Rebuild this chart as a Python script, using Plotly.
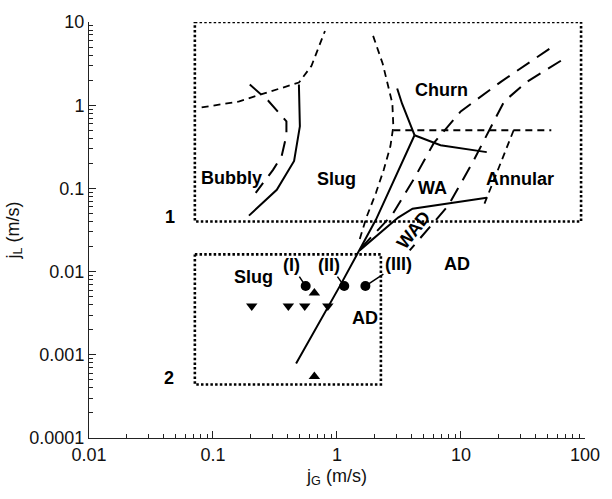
import numpy as np
import plotly.graph_objects as go

# ---------------- data ----------------
box1_x = [0.0714, 93, 93, 0.0714, 0.0714]
box1_y = [10, 10, 0.04, 0.04, 10]
box2_x = [0.0714, 2.26, 2.26, 0.0714, 0.0714]
box2_y = [0.0161, 0.0161, 0.00044, 0.00044, 0.0161]

bs_dash_x = [0.081, 0.163, 0.255, 0.493, 0.623, 0.80]
bs_dash_y = [0.94, 1.11, 1.38, 1.87, 2.98, 7.8]

bs_long_x = [0.198, 0.278, 0.391, 0.391, 0.358, 0.305, 0.221]
bs_long_y = [1.77, 1.14, 0.641, 0.436, 0.245, 0.167, 0.0886]

bs_solid_x = [0.493, 0.502, 0.451, 0.327, 0.195]
bs_solid_y = [1.77, 0.558, 0.214, 0.0962, 0.0471]

sc_dash_x = [1.956, 2.338, 2.797, 2.847, 2.698, 2.380, 2.063, 1.725, 1.496]
sc_dash_y = [6.81, 3.15, 1.05, 0.558, 0.3225, 0.1667, 0.0886, 0.0446, 0.0224]

main_solid_x = [0.468, 1.065, 2.063, 4.22]
main_solid_y = [0.000785, 0.00688, 0.0422, 0.436]
churn_arm_x = [4.22, 3.344, 3.058]
churn_arm_y = [0.436, 1.05, 1.586]
annular_arm_x = [4.22, 6.84, 16.14]
annular_arm_y = [0.436, 0.331, 0.273]
wad_solid_x = [1.522, 3.113, 4.07, 16.14]
wad_solid_y = [0.018, 0.0446, 0.0571, 0.0772]

long1_x = [51.6, 21.1, 9.95, 6.03, 4.22, 2.797, 1.578]
long1_y = [4.76, 1.923, 0.843, 0.35, 0.1338, 0.0484, 0.01955]
long2_x = [63.9, 34.2, 22.3, 17.02, 12.34, 7.89, 3.858]
long2_y = [3.424, 1.923, 1.11, 0.50, 0.202, 0.062, 0.018]

horiz_x = [2.847, 53.5]
horiz_y = [0.5, 0.5]
s2_x = [26.6, 15.02]
s2_y = [0.5, 0.0587]

circle_x = [0.559, 1.144, 1.695]
circle_y = [0.0067, 0.0067, 0.0067]
circle_labels = ["(I)", "(II)", "(III)"]
tri_up_x = [0.657, 0.657]
tri_up_y = [0.00553, 0.00055]
tri_down_x = [0.2054, 0.4053, 0.5494, 0.8436]
tri_down_y = [0.00387, 0.00387, 0.00387, 0.00387]

region_labels = ["Bubbly", "Slug", "Churn", "WA", "Annular", "AD", "Slug", "AD", "1", "2"]
region_x = [0.142, 0.987, 7.0, 5.85, 30.0, 9.34, 0.214, 1.69, 0.0452, 0.0441]
region_y = [0.134, 0.130, 1.54, 0.1017, 0.130, 0.01226, 0.00857, 0.00278, 0.0458, 0.00052]
wad_label = "WAD"
wad_x, wad_y = 4.16, 0.0312

x_tickvals = [0.01, 0.1, 1, 10, 100]
x_ticktext = ["0.01", "0.1", "1", "10", "100"]
y_tickvals = [0.0001, 0.001, 0.01, 0.1, 1, 10]
y_ticktext = ["0.0001", "0.001", "0.01", "0.1", "1", "10"]
minor_digits = [2, 3, 4, 5, 6, 7, 8, 9]
x_minor = [d * m for d in x_tickvals[:-1] for m in minor_digits]
y_minor = [d * m for d in y_tickvals[:-1] for m in minor_digits]

FONT = "Arial, Liberation Sans, sans-serif"
fig = go.Figure()

def line(x, y, dash, width):
    fig.add_trace(go.Scatter(x=x, y=y, mode="lines", showlegend=False,
                             hoverinfo="skip",
                             line=dict(color="black", width=width, dash=dash)))

DOT = "2.5px,2.2px"
SHORT = "7px,5px"
LONG = "15px,9px"

line(box1_x, box1_y, DOT, 2.6)
line(box2_x, box2_y, DOT, 2.6)
line(bs_dash_x, bs_dash_y, SHORT, 1.8)
line(bs_long_x, bs_long_y, LONG, 2)
line(bs_solid_x, bs_solid_y, "solid", 2)
line(sc_dash_x, sc_dash_y, SHORT, 1.8)
line(main_solid_x, main_solid_y, "solid", 2)
line(churn_arm_x, churn_arm_y, "solid", 2)
line(annular_arm_x, annular_arm_y, "solid", 2)
line(wad_solid_x, wad_solid_y, "solid", 2)
line(long1_x, long1_y, LONG, 2)
line(long2_x, long2_y, LONG, 2)
line(horiz_x, horiz_y, SHORT, 1.8)
line(s2_x, s2_y, SHORT, 1.8)

fig.add_trace(go.Scatter(x=circle_x, y=circle_y, mode="markers", showlegend=False,
                         marker=dict(symbol="circle", size=10, color="black")))
fig.add_trace(go.Scatter(x=tri_up_x, y=tri_up_y, mode="markers", showlegend=False,
                         marker=dict(symbol="triangle-up", size=10, color="black")))
fig.add_trace(go.Scatter(x=tri_down_x, y=tri_down_y, mode="markers", showlegend=False,
                         marker=dict(symbol="triangle-down", size=10, color="black")))

annotations = []
for t, x, y in zip(region_labels, region_x, region_y):
    annotations.append(dict(x=np.log10(x), y=np.log10(y), text="<b>%s</b>" % t,
                            showarrow=False, font=dict(family=FONT, size=18, color="black")))
annotations.append(dict(x=np.log10(wad_x), y=np.log10(wad_y), text="<b>%s</b>" % wad_label,
                        textangle=-52, showarrow=False,
                        font=dict(family=FONT, size=18, color="black")))
offsets = [(-14, -21), (-15, -21), (33, -22)]
for t, x, y, (ax, ay) in zip(circle_labels, circle_x, circle_y, offsets):
    annotations.append(dict(x=np.log10(x), y=np.log10(y), text="<b>%s</b>" % t,
                            showarrow=True, arrowhead=0, arrowwidth=1.5, arrowcolor="black",
                            ax=ax, ay=ay, standoff=3,
                            font=dict(family=FONT, size=18, color="black")))

def axis(tv, tt, minor_vals, rng, title):
    return dict(type="log", range=rng, tickmode="array", tickvals=tv, ticktext=tt,
                showline=True, linecolor="#222", linewidth=1,
                ticks="inside", ticklen=7, tickcolor="#222", showgrid=False,
                zeroline=False, mirror=False,
                tickfont=dict(family=FONT, size=18, color="#111"),
                minor=dict(tickmode="array", tickvals=minor_vals, ticks="inside",
                           ticklen=4, tickcolor="#222", showgrid=False),
                title=dict(text=title, font=dict(family=FONT, size=18, color="#111"),
                           standoff=5))

fig.update_layout(
    width=612, height=499,
    margin=dict(l=82, r=17, t=18, b=61),
    paper_bgcolor="white", plot_bgcolor="white",
    annotations=annotations,
    xaxis=axis(x_tickvals, x_ticktext, x_minor, [-2, 2.0002], "j<sub>G</sub> (m/s)"),
    yaxis=axis(y_tickvals, y_ticktext, y_minor, [-4, 1.0002], "j<sub>L</sub> (m/s)"),
)

fig.write_html("out.html", config={"displayModeBar": False},
               post_script="document.body.style.margin='0';")
